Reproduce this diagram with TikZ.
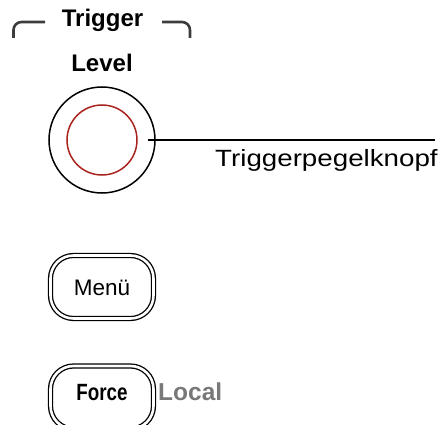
\documentclass[tikz,border=0pt]{standalone}
\usepackage{fontspec}
\setmainfont{Liberation Sans}
\newfontfamily\widefont{Liberation Sans}[FakeStretch=1.18]
\newfontfamily\condfont{Liberation Sans Bold}[FakeStretch=0.8]
\definecolor{BracketGray}{RGB}{60,60,60}
\definecolor{KnobRed}{RGB}{170,35,30}
\definecolor{LocalGray}{RGB}{120,120,120}

\begin{document}
\begin{tikzpicture}[x=1pt, y=1pt,
  ttl/.style={font=\bfseries\fontsize{24}{28}\selectfont, inner sep=0pt, anchor=base},
  knob/.style={draw, circle, line width=1.5pt, inner sep=0pt},
  btn/.style={draw, double, double distance=2.6pt, line width=1.3pt, rectangle, rounded corners=23pt,
              minimum width=103pt, minimum height=63pt, inner sep=0pt,
              text width=60pt, align=center},
  brk/.style={draw=BracketGray, line width=2.6pt, rounded corners=8pt}]

  \useasboundingbox (0,0) rectangle (439,424);

  \node[ttl] (trig)  at (102.5,397) {Trigger};
  \node[ttl] (level) at (102,352)   {Level};
  \draw[brk] (13.5,386) |- (45,402);
  \draw[brk] (162,402) -| (190,386);

  \node[knob, minimum size=106pt] (knob) at (102,284) {};
  \node[knob, draw=KnobRed, minimum size=70pt] (knobcore) at (knob.center) {};
  \coordinate (tap) at (148,284);
  \coordinate (lineend) at (435,284);
  \draw[line width=1.2pt] (tap) -- (lineend);
  \node[anchor=base west, inner sep=0pt, font=\widefont\fontsize{23.5}{28}\selectfont] (knoblbl) at (215,258) {Triggerpegelknopf};

  \node[btn, text height=18.5pt, text depth=2.5pt, font=\fontsize{22.5}{26}\selectfont] (menu) at (102,137) {Menü};
  \node[btn, text height=13pt, text depth=8pt, font=\condfont\fontsize{23.5}{28}\selectfont] (force) at (102,26.5) {Force\hspace*{9pt}};
  \node[anchor=base west, inner sep=0pt, text=LocalGray, font=\bfseries\fontsize{24.5}{28}\selectfont] (local) at (158,24) {Local};
\end{tikzpicture}
\end{document}
